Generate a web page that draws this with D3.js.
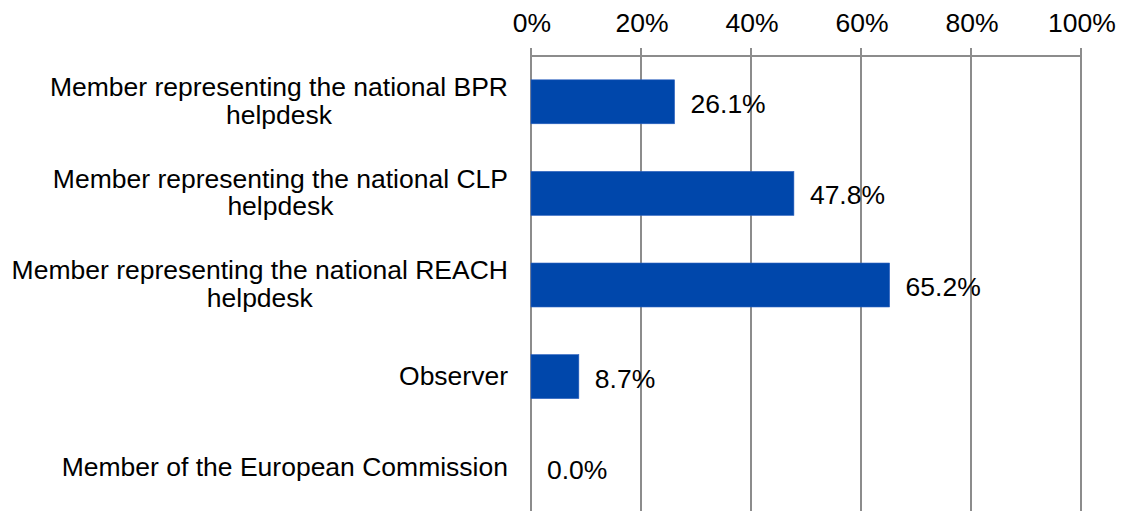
<!DOCTYPE html>
<html>
<head>
<meta charset="utf-8">
<script src="https://cdn.jsdelivr.net/npm/d3@7"></script>
<style>
  html, body { margin: 0; padding: 0; background: #fff; }
  svg { display: block; }
  text { font-family: "Liberation Sans", Arial, sans-serif; fill: #000; }
</style>
</head>
<body>
<svg id="chart" width="1124" height="511"></svg>
<script>
// Share of respondents by membership role
const categories = [
  ["Member representing the national BPR", "helpdesk"],
  ["Member representing the national CLP", "helpdesk"],
  ["Member representing the national REACH", "helpdesk"],
  ["Observer"],
  ["Member of the European Commission"]
];
const values = [26.1, 47.8, 65.2, 8.7, 0.0];
const tickValues = [0, 20, 40, 60, 80, 100];
const tickLabels = ["0%", "20%", "40%", "60%", "80%", "100%"];

const W = 1124, H = 511;
const margin = { top: 56, left: 531, right: 43 };
const plotBottom = 514;
const fontSize = 26.5;
const gridColor = "#8c8c8c";
const barColor = "#0047ab";

const svg = d3.select("#chart");

const x = d3.scaleLinear().domain([0, 100]).range([margin.left, W - margin.right]);
const y = d3.scaleBand()
  .domain(d3.range(categories.length))
  .range([margin.top, plotBottom])
  .paddingInner(0.52)
  .paddingOuter(0.26);

// Vertical gridlines
svg.append("g")
  .selectAll("line")
  .data(tickValues)
  .join("line")
  .attr("x1", d => x(d)).attr("x2", d => x(d))
  .attr("y1", margin.top - 8).attr("y2", H + 5)
  .attr("stroke", gridColor)
  .attr("stroke-width", 2);

// Top axis line
svg.append("line")
  .attr("x1", x(0)).attr("x2", x(100))
  .attr("y1", margin.top).attr("y2", margin.top)
  .attr("stroke", gridColor)
  .attr("stroke-width", 2);

// Tick labels
svg.append("g")
  .selectAll("text")
  .data(tickValues)
  .join("text")
  .attr("x", d => x(d) + 1)
  .attr("y", 32)
  .attr("text-anchor", "middle")
  .attr("font-size", fontSize)
  .text((d, i) => tickLabels[i]);

// Bars
svg.append("g")
  .selectAll("rect")
  .data(values)
  .join("rect")
  .attr("x", x(0))
  .attr("y", (d, i) => y(i))
  .attr("width", d => x(d) - x(0))
  .attr("height", y.bandwidth())
  .attr("fill", barColor)
  .attr("stroke", "#2a5fbf")
  .attr("stroke-width", d => d > 0 ? 0.6 : 0);

// Value labels
svg.append("g")
  .selectAll("text")
  .data(values)
  .join("text")
  .attr("x", d => x(d) + 16)
  .attr("y", (d, i) => y(i) + y.bandwidth() / 2 + 11)
  .attr("font-size", fontSize)
  .text(d => d.toFixed(1) + "%");

// Category labels: lines centred on each other, block right-aligned
const labelRight = 508;
const lineH = 27.6;
const catG = svg.append("g");
categories.forEach((lines, i) => {
  const g = catG.append("g");
  const cy = y(i) + y.bandwidth() / 2;
  const texts = lines.map((ln, j) =>
    g.append("text")
      .attr("font-size", fontSize)
      .attr("text-anchor", "middle")
      .attr("y", cy + 8 + (j - (lines.length - 1) / 2) * lineH)
      .text(ln)
  );
  const widest = d3.max(texts, t => t.node().getComputedTextLength());
  texts.forEach(t => t.attr("x", labelRight - widest / 2));
});
</script>
</body>
</html>
